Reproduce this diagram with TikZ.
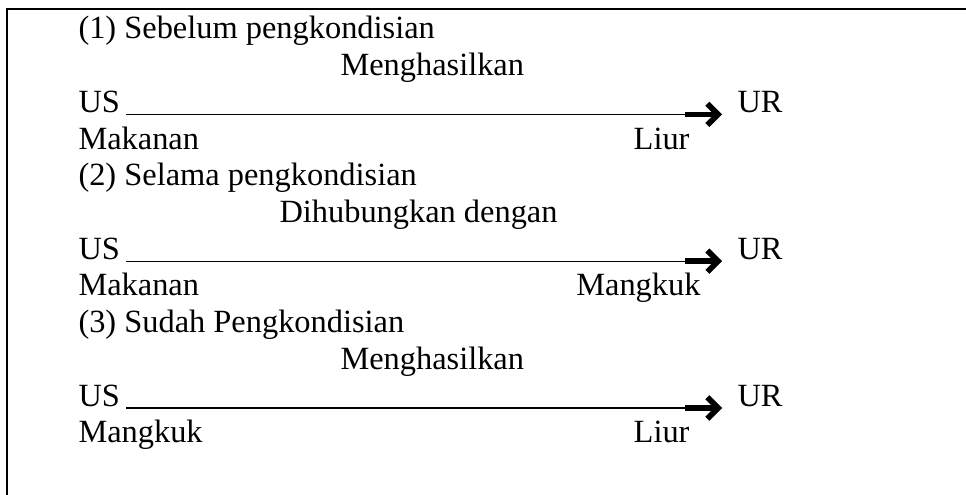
\documentclass[tikz,border=0pt]{standalone}
\usepackage{fontspec}
\setmainfont{Liberation Serif}
\usetikzlibrary{arrows.meta,calc}

\tikzset{every picture/.style={line width=0.75pt}}
\tikzset{
  txt/.style={anchor=base west, inner sep=0pt, font=\fontsize{24.3}{28}\selectfont},
  txtr/.style={txt, anchor=base east},
  link/.style={line width=1pt},
  tip/.style={line width=4.2pt, -{Straight Barb[length=8pt,width=16pt]}},
  tipshadow/.style={tip, draw=black!30, shift={(2,3)}}
}

\begin{document}
\begin{tikzpicture}[x=0.75pt,y=0.75pt,yscale=-1,xscale=1]
	\useasboundingbox (0,0) rectangle (966,495);
	%frame
	\draw [line width=1.6pt] (7,495) -- (7,9) -- (966,9) ;

	% (1)
	\node [txt] (t1) at (78,39) {(1) Sebelum pengkondisian};
	\node [txt] (v1) at (340,75.7) {Menghasilkan};
	\node [txt] (us1) at (78,112.4) {US};
	\node [txt] (ur1) at (737,112.4) {UR};
	\node [txt] (a1) at (78,149.1) {Makanan};
	\node [txtr] (b1) at (690,149.1) {Liur};
	% (2)
	\node [txt] (t2) at (78,185.8) {(2) Selama pengkondisian};
	\node [txt] (v2) at (279,222.5) {Dihubungkan dengan};
	\node [txt] (us2) at (78,259.2) {US};
	\node [txt] (ur2) at (737,259.2) {UR};
	\node [txt] (a2) at (78,295.9) {Makanan};
	\node [txtr] (b2) at (701,295.9) {Mangkuk};
	% (3)
	\node [txt] (t3) at (78,332.6) {(3) Sudah Pengkondisian};
	\node [txt] (v3) at (340,369.3) {Menghasilkan};
	\node [txt] (us3) at (78,406) {US};
	\node [txt] (ur3) at (737,406) {UR};
	\node [txt] (a3) at (78,442.7) {Mangkuk};
	\node [txtr] (b3) at (690,442.7) {Liur};

	% arrows
	\foreach \i in {1,2,3} {
		\path (us\i.base east) ++(6,2) coordinate (s\i) ;
		\path (ur\i.base west) ++(-15,2) coordinate (e\i) ;
		\draw [link] (s\i) -- (e\i) ;
		\draw [tipshadow] ($(e\i)+(-37,0)$) -- (e\i) ;
		\draw [tip] ($(e\i)+(-37,0)$) -- (e\i) ;
	}

\end{tikzpicture}
\end{document}
